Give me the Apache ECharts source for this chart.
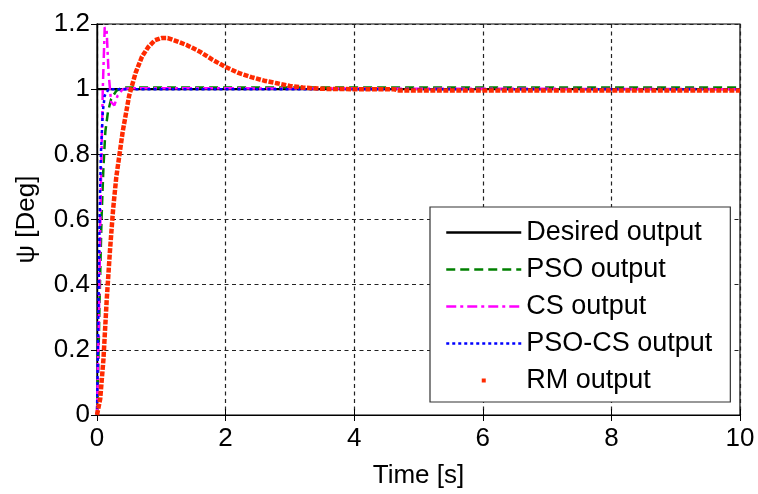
<!DOCTYPE html>
<html>
<head>
<meta charset="utf-8">
<script src="https://cdn.jsdelivr.net/npm/echarts@6/dist/echarts.min.js"></script>
<style>
  html, body { margin: 0; padding: 0; background: #fff; }
  #chart { width: 758px; height: 494px; }
</style>
</head>
<body>
<div id="chart"></div>
<script>
// values: [time s, psi deg]
var desired = [[0, 1], [10, 1]];
var pso = [[0, 0], [0.02, 0.15], [0.04, 0.35], [0.07, 0.6], [0.1, 0.76], [0.13, 0.87],
    [0.17, 0.93], [0.22, 0.97], [0.3, 0.995], [0.4, 1.005], [1, 1.005], [10, 1.005]];
var cs = [[0, 0], [0.03, 0.3], [0.06, 0.7], [0.09, 1.0], [0.12, 1.19], [0.15, 1.18],
    [0.18, 1.05], [0.22, 0.96], [0.27, 0.95], [0.32, 0.98], [0.4, 1.0], [0.5, 1.003], [10, 1.0]];
var psoCs = [[0, 0], [0.02, 0.3], [0.04, 0.6], [0.06, 0.8], [0.09, 0.93], [0.12, 0.98],
    [0.18, 1.0], [10, 1.0]];
var rm = [[0, 0], [0.05, 0.05], [0.1, 0.17], [0.15, 0.35], [0.2, 0.5], [0.25, 0.63],
    [0.3, 0.73], [0.35, 0.8], [0.4, 0.87], [0.5, 0.98], [0.6, 1.05], [0.7, 1.1],
    [0.8, 1.13], [0.9, 1.15], [1.0, 1.157], [1.1, 1.157], [1.2, 1.15], [1.4, 1.135],
    [1.6, 1.115], [1.8, 1.09], [2.0, 1.068], [2.2, 1.05], [2.4, 1.037], [2.6, 1.026],
    [2.8, 1.018], [3.0, 1.01], [3.2, 1.005], [3.5, 1.001], [4.0, 1.0], [4.6, 1.0],
    [4.7, 0.996], [10, 0.996]];

var font = "'Liberation Sans', Arial, sans-serif";

var chart = echarts.init(document.getElementById('chart'));

function frameAxis(pos, kind) {
    return {
        type: 'value', position: pos, min: 0,
        max: kind === 'x' ? 10 : 1.2,
        interval: kind === 'x' ? 2 : 0.2,
        axisLine: { show: true, lineStyle: { color: '#000', width: 1.2 } },
        axisTick: { show: true, inside: true, length: 6, lineStyle: { color: '#000' } },
        axisLabel: { show: false },
        splitLine: { show: false }
    };
}

chart.setOption({
    animation: false,
    backgroundColor: '#fff',
    textStyle: { fontFamily: font },
    grid: { left: 97, right: 18, top: 24, bottom: 79, show: true, borderColor: '#000', borderWidth: 1.2 },
    xAxis: [{
        type: 'value', min: 0, max: 10, interval: 2,
        name: 'Time [s]', nameLocation: 'middle', nameGap: 48,
        nameTextStyle: { fontSize: 26, color: '#000', fontFamily: font },
        axisLine: { show: true, lineStyle: { color: '#000', width: 1.2 } },
        axisTick: { show: true, inside: true, length: 6, lineStyle: { color: '#000' } },
        axisLabel: { fontSize: 26, color: '#000', margin: 11, fontFamily: font },
        splitLine: { show: true, lineStyle: { color: '#222', type: [4, 3.5], width: 1.2 } }
    }, frameAxis('top', 'x')],
    yAxis: [{
        type: 'value', min: 0, max: 1.2, interval: 0.2,
        name: 'ψ [Deg]', nameLocation: 'middle', nameGap: 57,
        nameTextStyle: { fontSize: 26, color: '#000', fontFamily: font },
        axisLine: { show: true, lineStyle: { color: '#000', width: 1.2 } },
        axisTick: { show: true, inside: true, length: 6, lineStyle: { color: '#000' } },
        axisLabel: { fontSize: 26, color: '#000', margin: 7, fontFamily: font },
        splitLine: { show: true, lineStyle: { color: '#222', type: [4, 3.5], width: 1.2 } }
    }, frameAxis('right', 'y')],
    legend: {
        orient: 'vertical', left: 430, top: 207,
        padding: [12, 18, 8, 15], itemGap: 10,
        itemWidth: 75, itemHeight: 5, itemTextGap: 8,
        backgroundColor: '#fff', borderColor: '#333', borderWidth: 1.2,
        textStyle: { fontSize: 27, color: '#000', fontFamily: font },
        lineStyle: { width: 2.5 },
        data: [
            { name: 'Desired output', itemStyle: { opacity: 0 } },
            { name: 'PSO output', itemStyle: { opacity: 0 } },
            { name: 'CS output', itemStyle: { opacity: 0 } },
            { name: 'PSO-CS output', itemStyle: { opacity: 0 } },
            { name: 'RM output', lineStyle: { opacity: 0 } }
        ]
    },
    series: [
        { name: 'Desired output', type: 'line', data: desired, symbol: 'none',
          lineStyle: { color: '#000', width: 2.2 }, itemStyle: { color: '#000' } },
        { name: 'PSO output', type: 'line', data: pso, symbol: 'none',
          lineStyle: { color: '#008000', width: 2.5, type: [9, 5] }, itemStyle: { color: '#008000' } },
        { name: 'CS output', type: 'line', data: cs, symbol: 'none',
          lineStyle: { color: '#ff00ff', width: 2.5, type: [10, 4, 3, 4] }, itemStyle: { color: '#ff00ff' } },
        { name: 'PSO-CS output', type: 'line', data: psoCs, symbol: 'none',
          lineStyle: { color: '#0000ff', width: 2.5, type: [3, 3] }, itemStyle: { color: '#0000ff' } },
        { name: 'RM output', type: 'line', data: rm, symbol: 'rect', showSymbol: false,
          lineStyle: { color: '#ff2a00', width: 4.5, type: [5, 1.5] }, itemStyle: { color: '#ff2a00' } }
    ]
});
</script>
</body>
</html>
